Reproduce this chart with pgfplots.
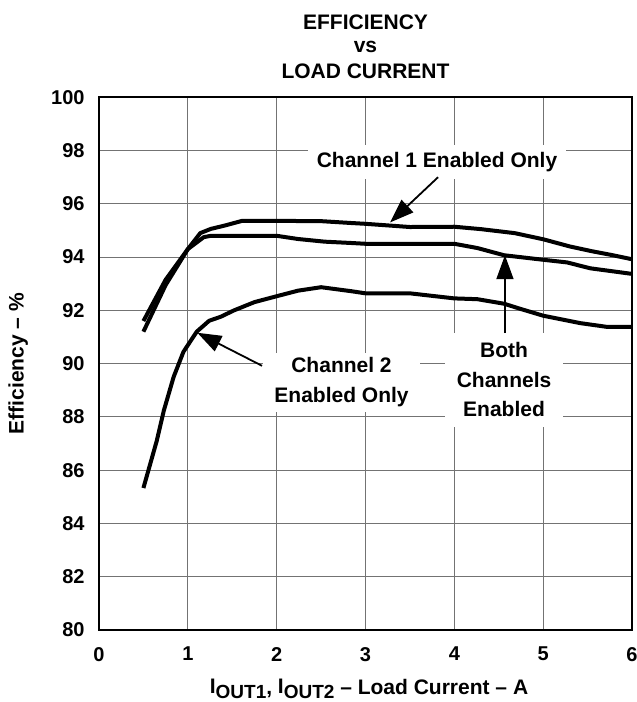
\documentclass[border=0pt]{standalone}
\usepackage{pgfplots}
\pgfplotsset{compat=1.18}
\usepackage{fontspec}
\setmainfont{Liberation Sans}
\usetikzlibrary{arrows.meta}

\tikzset{
  annot/.style={fill=white, font=\fontsize{10.5}{14.75}\selectfont\bfseries, align=center},
  arr/.style={line width=0.9pt, -{Triangle[length=12pt,width=8.5pt]}},
}

\pgfplotstableread{
x y
0.50 91.60
0.75 93.15
1.00 94.30
1.14 94.90
1.26 95.06
1.41 95.18
1.61 95.36
2.00 95.36
2.50 95.35
2.84 95.28
3.00 95.25
3.50 95.13
4.00 95.14
4.30 95.05
4.68 94.90
5.00 94.67
5.30 94.40
5.55 94.22
5.77 94.08
6.00 93.92
}\chone

\pgfplotstableread{
x y
0.50 91.20
0.75 92.95
1.00 94.30
1.18 94.75
1.26 94.80
2.00 94.80
2.24 94.68
2.54 94.58
2.84 94.53
3.00 94.50
4.00 94.50
4.26 94.34
4.56 94.07
5.00 93.90
5.27 93.80
5.53 93.58
6.00 93.37
}\both

\pgfplotstableread{
x y
0.50 85.33
0.65 87.10
0.73 88.24
0.84 89.50
0.95 90.44
1.10 91.20
1.24 91.61
1.37 91.76
1.52 92.00
1.75 92.31
2.01 92.54
2.24 92.74
2.50 92.87
2.84 92.72
3.00 92.64
3.50 92.64
4.00 92.45
4.26 92.42
4.56 92.25
4.75 92.05
5.00 91.80
5.42 91.52
5.72 91.38
6.00 91.38
}\chtwo

\begin{document}
\begin{tikzpicture}
\useasboundingbox (-49.5pt,-36pt) rectangle (269pt,315pt);
\begin{axis}[
  at={(0,0)}, anchor=south west,
  scale only axis, width=266.5pt, height=266.35pt,
  xmin=0, xmax=6, ymin=80, ymax=100,
  xtick={0,1,...,6}, ytick={80,82,...,100},
  grid=major,
  major grid style={black!55, line width=0.5pt},
  axis line style={line width=0.8pt},
  major tick length=0pt,
  /pgf/number format/assume math mode=true,
  ticklabel style={font=\fontsize{10}{12}\selectfont\bfseries},
  xticklabel style={yshift=-5pt},
  yticklabel style={xshift=-3.7pt},
  clip=false,
]
\node[annot, inner xsep=4.25pt, inner ysep=3.5pt] at (axis cs:3.805,97.57) {Channel 1 Enabled Only};
\node[annot, inner xsep=6pt, inner ysep=5pt] at (axis cs:4.56,89.39) {Both\\Channels\\Enabled};
\node[annot, inner xsep=5.75pt, inner ysep=2.6pt] at (axis cs:2.73,89.30) {Channel 2\\Enabled Only};

\addplot[black, line width=2pt, line join=round] table[x=x,y=y] {\chone};
\addplot[black, line width=2pt, line join=round] table[x=x,y=y] {\both};
\addplot[black, line width=2pt, line join=round] table[x=x,y=y] {\chtwo};

\draw[arr] (axis cs:3.817,97.0) -- (axis cs:3.276,95.30);
\draw[arr] (axis cs:4.57,91.15) -- (axis cs:4.57,94.07);
\draw[arr] (axis cs:1.835,89.92) -- (axis cs:1.107,91.16);
\end{axis}

% titles and axis labels (plot area spans (0,0)--(266.5pt,266.35pt))
\node[font=\fontsize{10.5}{12}\selectfont\bfseries, anchor=base] at (133.25pt,300.25pt) {EFFICIENCY};
\node[font=\fontsize{10.5}{12}\selectfont\bfseries, anchor=base] at (133.25pt,288.5pt) {vs};
\node[font=\fontsize{10.5}{12}\selectfont\bfseries, anchor=base] at (133.25pt,275.75pt) {LOAD CURRENT};
\node[font=\fontsize{10.5}{12}\selectfont\bfseries, rotate=90] at (-40.35pt,133.2pt) {Efficiency -- \%};
\node[font=\fontsize{10.5}{12}\selectfont\bfseries, anchor=base] at (135pt,-32.5pt)
  {\raisebox{0.8pt}{I}\raisebox{-1.7pt}{\fontsize{9.5}{10}\selectfont OUT1}, \raisebox{0.8pt}{I}\raisebox{-1.7pt}{\fontsize{9.5}{10}\selectfont OUT2} -- Load Current -- A};
\end{tikzpicture}
\end{document}
